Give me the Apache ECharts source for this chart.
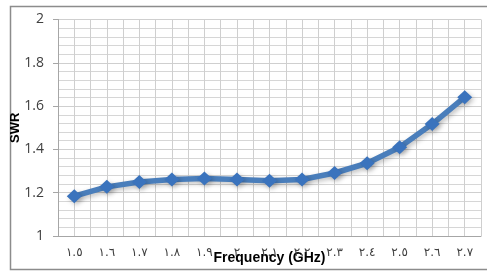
<!DOCTYPE html>
<html>
<head>
<meta charset="utf-8">
<script src="https://cdn.jsdelivr.net/npm/echarts@6/dist/echarts.min.js"></script>
<style>
  html, body { margin: 0; padding: 0; background: #fff; }
  #chart { width: 487px; height: 271px; }
</style>
</head>
<body>
<div id="chart"></div>
<script>
// frequency labels (Arabic-Indic digits, as in the original)
const freqLabels = ["١.٥", "١.٦", "١.٧", "١.٨", "١.٩", "٢", "٢.١", "٢.٢", "٢.٣", "٢.٤", "٢.٥", "٢.٦", "٢.٧"];
// SWR
const swr = [1.184, 1.227, 1.249, 1.261, 1.266, 1.261, 1.255, 1.261, 1.291, 1.336, 1.41, 1.517, 1.641];
const yTicks = [1, 1.2, 1.4, 1.6, 1.8, 2];

const chart = echarts.init(document.getElementById("chart"));

chart.setOption({
  animation: false,
  grid: { left: 58, right: 6, top: 19.5, bottom: 35, outerBoundsMode: "none", containLabel: false },
  graphic: [
    {
      type: "rect",
      shape: { x: 10.5, y: 6.5, width: 490, height: 263 },
      style: { fill: "none", stroke: "#8c8c8c", lineWidth: 1.5 },
      z: -10
    }
  ],
  xAxis: [
    {
      type: "category",
      data: freqLabels,
      boundaryGap: true,
      name: "Frequency (GHz)",
      nameLocation: "middle",
      nameGap: 15,
      nameMoveOverlap: false,
      nameTextStyle: { fontFamily: "Liberation Sans", fontWeight: "bold", fontSize: 14, color: "#000" },
      axisLine: { show: true, lineStyle: { color: "#a6a6a6" } },
      axisTick: { show: false },
      axisLabel: { margin: 11, fontSize: 12, color: "#404040", fontFamily: "DejaVu Sans" },
      splitLine: { show: false }
    },
    {
      // grid only: vertical lines at half-category steps
      type: "value",
      min: 0,
      max: 26,
      interval: 1,
      show: true,
      position: "bottom",
      axisLine: { show: false },
      axisTick: { show: false },
      axisLabel: { show: false },
      splitLine: { show: true, lineStyle: { color: "#cfcfcf", width: 1 } }
    }
  ],
  yAxis: {
    type: "value",
    min: 1,
    max: 2,
    interval: 0.2,
    name: "SWR",
    nameLocation: "middle",
    nameGap: 36,
    nameRotate: 90,
    nameMoveOverlap: false,
    nameTextStyle: { fontFamily: "Liberation Sans", fontWeight: "bold", fontSize: 13, color: "#000" },
    axisLine: { show: true, lineStyle: { color: "#a6a6a6" } },
    axisTick: { show: true, length: 5, lineStyle: { color: "#a6a6a6" } },
    axisLabel: {
      margin: 14,
      fontSize: 14,
      color: "#404040",
      fontFamily: "Open Sans",
      formatter: v => (yTicks.includes(+v.toFixed(1)) ? String(+v.toFixed(1)) : "")
    },
    splitLine: { show: true, lineStyle: { color: "#cfcfcf" } },
    minorTick: { show: false, splitNumber: 5 },
    minorSplitLine: { show: true, lineStyle: { color: "#d6d6d6" } }
  },
  series: [
    {
      type: "line",
      xAxisIndex: 0,
      data: swr,
      symbol: "diamond",
      symbolSize: [15, 14],
      lineStyle: {
        color: "#4a7ebb",
        width: 5.5,
        shadowColor: "rgba(0,0,0,0.25)",
        shadowBlur: 5,
        shadowOffsetX: 2,
        shadowOffsetY: 2
      },
      itemStyle: {
        color: "#3a73bd",
        shadowColor: "rgba(0,0,0,0.25)",
        shadowBlur: 5,
        shadowOffsetX: 2,
        shadowOffsetY: 2
      },
      z: 5
    }
  ]
});
</script>
</body>
</html>
